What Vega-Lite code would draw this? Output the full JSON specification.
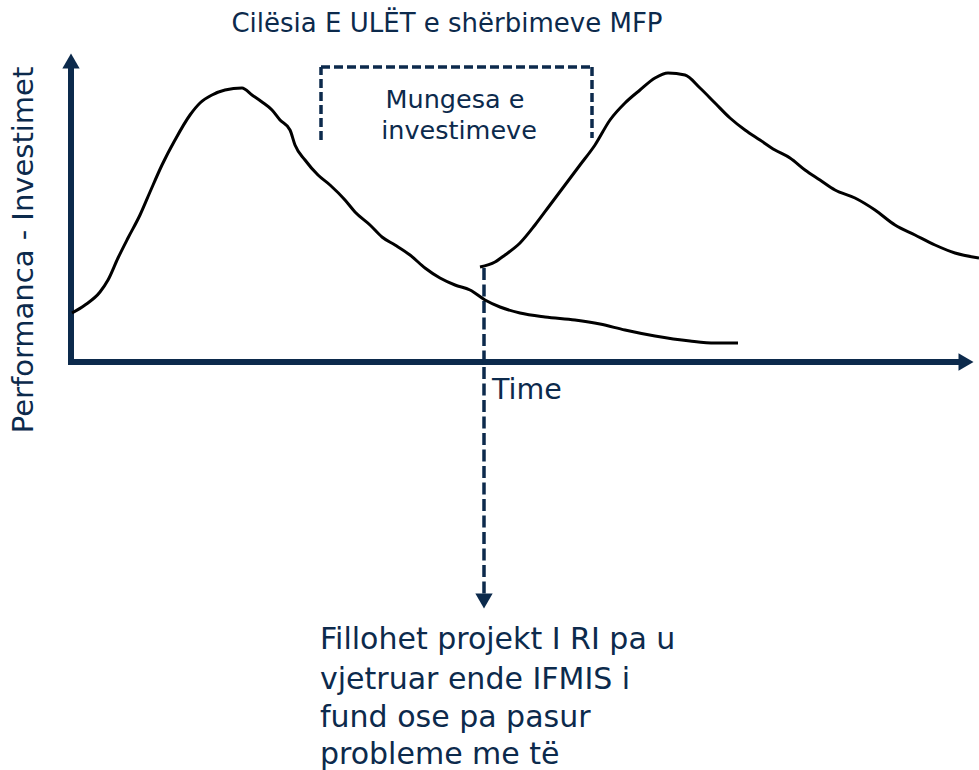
{
  "$schema": "https://vega.github.io/schema/vega-lite/v6.json",
  "width": 979,
  "height": 770,
  "padding": 0,
  "autosize": {"type": "none"},
  "background": "white",
  "config": {"view": {"stroke": null}},
  "datasets": {
    "curves": [
      {"s": "a", "x": 72, "y": 313}, {"s": "a", "x": 85, "y": 305}, {"s": "a", "x": 100, "y": 292}, {"s": "a", "x": 108, "y": 280},
      {"s": "a", "x": 118, "y": 258}, {"s": "a", "x": 128, "y": 238}, {"s": "a", "x": 140, "y": 215}, {"s": "a", "x": 150, "y": 192},
      {"s": "a", "x": 162, "y": 165}, {"s": "a", "x": 175, "y": 140}, {"s": "a", "x": 190, "y": 115}, {"s": "a", "x": 200, "y": 103},
      {"s": "a", "x": 212, "y": 95}, {"s": "a", "x": 225, "y": 90}, {"s": "a", "x": 242, "y": 88}, {"s": "a", "x": 252, "y": 95},
      {"s": "a", "x": 262, "y": 102}, {"s": "a", "x": 272, "y": 110}, {"s": "a", "x": 280, "y": 120}, {"s": "a", "x": 290, "y": 130},
      {"s": "a", "x": 295, "y": 145}, {"s": "a", "x": 305, "y": 160}, {"s": "a", "x": 318, "y": 175}, {"s": "a", "x": 330, "y": 185},
      {"s": "a", "x": 345, "y": 200}, {"s": "a", "x": 355, "y": 212}, {"s": "a", "x": 370, "y": 225}, {"s": "a", "x": 382, "y": 237},
      {"s": "a", "x": 395, "y": 245}, {"s": "a", "x": 410, "y": 255}, {"s": "a", "x": 425, "y": 268}, {"s": "a", "x": 440, "y": 278},
      {"s": "a", "x": 455, "y": 285}, {"s": "a", "x": 470, "y": 290}, {"s": "a", "x": 485, "y": 300}, {"s": "a", "x": 500, "y": 307},
      {"s": "a", "x": 520, "y": 313}, {"s": "a", "x": 545, "y": 317}, {"s": "a", "x": 575, "y": 320}, {"s": "a", "x": 600, "y": 324},
      {"s": "a", "x": 625, "y": 330}, {"s": "a", "x": 655, "y": 336}, {"s": "a", "x": 690, "y": 341}, {"s": "a", "x": 715, "y": 343},
      {"s": "a", "x": 738, "y": 343},
      {"s": "b", "x": 480, "y": 267}, {"s": "b", "x": 495, "y": 262}, {"s": "b", "x": 505, "y": 255}, {"s": "b", "x": 520, "y": 243},
      {"s": "b", "x": 535, "y": 225}, {"s": "b", "x": 550, "y": 205}, {"s": "b", "x": 565, "y": 185}, {"s": "b", "x": 580, "y": 165},
      {"s": "b", "x": 595, "y": 145}, {"s": "b", "x": 610, "y": 120}, {"s": "b", "x": 625, "y": 103}, {"s": "b", "x": 640, "y": 90},
      {"s": "b", "x": 655, "y": 78}, {"s": "b", "x": 668, "y": 73}, {"s": "b", "x": 685, "y": 75}, {"s": "b", "x": 700, "y": 88},
      {"s": "b", "x": 715, "y": 103}, {"s": "b", "x": 730, "y": 118}, {"s": "b", "x": 745, "y": 130}, {"s": "b", "x": 760, "y": 140},
      {"s": "b", "x": 775, "y": 150}, {"s": "b", "x": 790, "y": 158}, {"s": "b", "x": 805, "y": 170}, {"s": "b", "x": 820, "y": 180},
      {"s": "b", "x": 835, "y": 190}, {"s": "b", "x": 855, "y": 198}, {"s": "b", "x": 875, "y": 210}, {"s": "b", "x": 895, "y": 225},
      {"s": "b", "x": 915, "y": 235}, {"s": "b", "x": 935, "y": 245}, {"s": "b", "x": 955, "y": 253}, {"s": "b", "x": 979, "y": 258}
    ],
    "axes": [
      {"x": 71, "y": 66, "x2": 71, "y2": 365},
      {"x": 68, "y": 362, "x2": 962, "y2": 362}
    ],
    "box": [
      {"x": 321, "y": 140, "x2": 321, "y2": 67},
      {"x": 321, "y": 67, "x2": 592, "y2": 67},
      {"x": 592, "y": 67, "x2": 592, "y2": 138}
    ],
    "pointer": [
      {"x": 484, "y": 268, "x2": 484, "y2": 596}
    ],
    "arrows": [
      {"shape": "triangle-up", "x": 71, "y": 61},
      {"shape": "triangle-right", "x": 966, "y": 362},
      {"shape": "triangle-down", "x": 484, "y": 601}
    ],
    "labels": [
      {"g": "title", "text": "Cilësia E ULËT e shërbimeve MFP", "x": 447, "y": 24},
      {"g": "box", "text": "Mungesa e", "x": 455, "y": 100},
      {"g": "box", "text": "investimeve", "x": 459, "y": 131},
      {"g": "time", "text": "Time", "x": 492, "y": 390},
      {"g": "note", "text": "Fillohet projekt I RI pa u", "x": 320, "y": 640},
      {"g": "note", "text": "vjetruar ende IFMIS i", "x": 320, "y": 680},
      {"g": "note", "text": "fund ose pa pasur", "x": 320, "y": 718},
      {"g": "note", "text": "probleme me të", "x": 320, "y": 755},
      {"g": "ylab", "text": "Performanca - Investimet", "x": 24, "y": 250}
    ]
  },
  "encoding": {
    "x": {"field": "x", "type": "quantitative", "scale": {"domain": [0, 979], "nice": false, "zero": false}, "axis": null},
    "y": {"field": "y", "type": "quantitative", "scale": {"domain": [0, 770], "reverse": true, "nice": false, "zero": false}, "axis": null}
  },
  "layer": [
    {
      "data": {"name": "axes"},
      "mark": {"type": "rule", "color": "#0c2a4c", "strokeWidth": 6},
      "encoding": {"x2": {"field": "x2"}, "y2": {"field": "y2"}}
    },
    {
      "data": {"name": "box"},
      "mark": {"type": "rule", "color": "#0c2a4c", "strokeWidth": 3.5, "strokeDash": [9, 4]},
      "encoding": {"x2": {"field": "x2"}, "y2": {"field": "y2"}}
    },
    {
      "data": {"name": "pointer"},
      "mark": {"type": "rule", "color": "#0c2a4c", "strokeWidth": 3.5, "strokeDash": [12, 4.5]},
      "encoding": {"x2": {"field": "x2"}, "y2": {"field": "y2"}}
    },
    {
      "data": {"name": "arrows"},
      "mark": {"type": "point", "filled": true, "color": "#0c2a4c", "opacity": 1, "size": 300},
      "encoding": {"shape": {"field": "shape", "type": "nominal", "scale": null}}
    },
    {
      "data": {"name": "curves"},
      "mark": {"type": "line", "color": "black", "strokeWidth": 3, "interpolate": "monotone"},
      "encoding": {"detail": {"field": "s"}}
    },
    {
      "data": {"name": "labels"},
      "transform": [{"filter": "datum.g == 'title'"}],
      "mark": {"type": "text", "font": "DejaVu Sans", "fontSize": 26, "color": "#0c2a4c", "align": "center", "baseline": "middle"},
      "encoding": {"text": {"field": "text"}}
    },
    {
      "data": {"name": "labels"},
      "transform": [{"filter": "datum.g == 'box'"}],
      "mark": {"type": "text", "font": "DejaVu Sans", "fontSize": 25.5, "color": "#0c2a4c", "align": "center", "baseline": "middle"},
      "encoding": {"text": {"field": "text"}}
    },
    {
      "data": {"name": "labels"},
      "transform": [{"filter": "datum.g == 'time'"}],
      "mark": {"type": "text", "font": "DejaVu Sans", "fontSize": 28.5, "color": "#0c2a4c", "align": "left", "baseline": "middle"},
      "encoding": {"text": {"field": "text"}}
    },
    {
      "data": {"name": "labels"},
      "transform": [{"filter": "datum.g == 'note'"}],
      "mark": {"type": "text", "font": "DejaVu Sans", "fontSize": 30, "color": "#0c2a4c", "align": "left", "baseline": "middle"},
      "encoding": {"text": {"field": "text"}}
    },
    {
      "data": {"name": "labels"},
      "transform": [{"filter": "datum.g == 'ylab'"}],
      "mark": {"type": "text", "font": "DejaVu Sans", "fontSize": 29, "color": "#0c2a4c", "align": "center", "baseline": "middle", "angle": 270},
      "encoding": {"text": {"field": "text"}}
    }
  ]
}
